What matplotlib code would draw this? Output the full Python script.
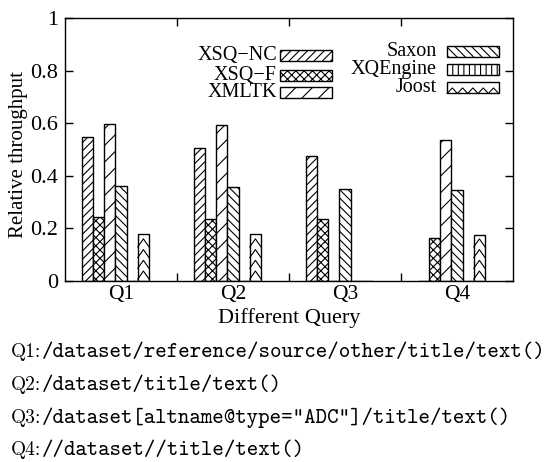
import numpy as np
import matplotlib
matplotlib.use('Agg')
import matplotlib.pyplot as plt
from matplotlib.patches import Rectangle

plt.rcParams['font.family'] = ['Liberation Serif', 'DejaVu Serif']
plt.rcParams['hatch.linewidth'] = 0.8

# relative throughput per query (0 = no result)
queries = ['Q1', 'Q2', 'Q3', 'Q4']
systems = ['XSQ\u2212NC', 'XSQ\u2212F', 'XMLTK', 'Saxon', 'XQEngine', 'Joost']
xsq_nc = [0.546, 0.505, 0.477, 0.0]
xsq_f = [0.242, 0.235, 0.235, 0.164]
xmltk = [0.596, 0.592, 0.0, 0.535]
saxon = [0.360, 0.356, 0.351, 0.347]
xqengine = [0.0, 0.0, 0.0, 0.0]
joost = [0.178, 0.178, 0.0, 0.176]
series = [xsq_nc, xsq_f, xmltk, saxon, xqengine, joost]
hatches = ['////', 'xxxx', '//', '\\\\\\\\', '|||', None]

query_paths = [
    '/dataset/reference/source/other/title/text()',
    '/dataset/title/text()',
    '/dataset[altname@type="ADC"]/title/text()',
    '//dataset//title/text()',
]

W, H = 550, 462
fig = plt.figure(figsize=(W / 100, H / 100), dpi=100)
ax = fig.add_axes([65 / W, (H - 281) / H, 448 / W, 263 / H])

x = np.arange(len(queries))
bw = 0.1
joost_bars = None
for i, (vals, h) in enumerate(zip(series, hatches)):
    off = (i - 2.5) * bw - 0.05
    bars = ax.bar(x + off, vals, bw, color='white', edgecolor='black',
                  linewidth=1, hatch=h, zorder=2)
    if i == 5:
        joost_bars = bars

# chevron fill for the Joost bars
ch_start, ch_step, ch_h = 0.0076, 0.0407, 0.0304
for b in joost_bars:
    bx, bwid, bh = b.get_x(), b.get_width(), b.get_height()
    if bh <= 0:
        continue
    y0 = ch_start
    while y0 + ch_h < bh:
        ax.plot([bx, bx + bwid / 2, bx + bwid], [y0, y0 + ch_h, y0],
                color='black', lw=0.8, zorder=3)
        y0 += ch_step

ax.set_xlim(-0.5, 3.5)
ax.set_ylim(0, 1)
ax.set_xticks(x)
ax.set_xticklabels(queries, fontsize=15.5)
ax.set_xticks([0.5, 1.5, 2.5], minor=True)
ax.set_yticks([0, 0.2, 0.4, 0.6, 0.8, 1.0])
ax.set_yticklabels(['0', '0.2', '0.4', '0.6', '0.8', '1'], fontsize=16)
ax.tick_params(axis='both', which='both', direction='in', top=True,
               right=True, width=1)
ax.tick_params(axis='x', which='major', length=0, pad=3)
ax.tick_params(axis='x', which='minor', length=6)
ax.tick_params(axis='y', which='major', length=6, pad=5)
for s in ax.spines.values():
    s.set_linewidth(1)

ax.set_xlabel('Different Query', fontsize=16, labelpad=3)
ax.set_ylabel('Relative throughput', fontsize=15)
ax.yaxis.set_label_coords(-0.083, 0.48)

# legend drawn as two columns: label, then sample box
box_w, box_h = 0.115, 0.042
cols = [
    (0.473, 0.48, [0.857, 0.783, 0.715]),
    (0.830, 0.853, [0.873, 0.804, 0.734]),
]
k = 0
for x_txt, x_box, rows in cols:
    for y in rows:
        ax.text(x_txt, y, systems[k], transform=ax.transAxes, ha='right',
                va='center', fontsize=14.5)
        ax.add_patch(Rectangle((x_box, y - box_h / 2), box_w, box_h,
                               transform=ax.transAxes, facecolor='white',
                               edgecolor='black', lw=1, hatch=hatches[k],
                               zorder=4))
        if systems[k] == 'Joost':
            n = 5
            xs = np.linspace(x_box, x_box + box_w, 2 * n + 1)
            ys = np.where(np.arange(2 * n + 1) % 2 == 1,
                          y - box_h / 2 + 0.021, y - box_h / 2)
            ax.plot(xs, ys, color='black', lw=0.8, transform=ax.transAxes,
                    zorder=5)
        k += 1

# query definitions under the chart
fig.canvas.draw()
renderer = fig.canvas.get_renderer()
baselines = [357, 390, 423, 455]
for q, path, yb in zip(queries, query_paths, baselines):
    t = fig.text(11 / W, 1 - yb / H, q + ':', family='cmr10', fontsize=14,
                 va='baseline', ha='left')
    ext = t.get_window_extent(renderer)
    fig.text(ext.x1 / W, 1 - yb / H, path, family='cmtt10', fontsize=15.7,
             va='baseline', ha='left')

fig.savefig('out.png', dpi=100)
